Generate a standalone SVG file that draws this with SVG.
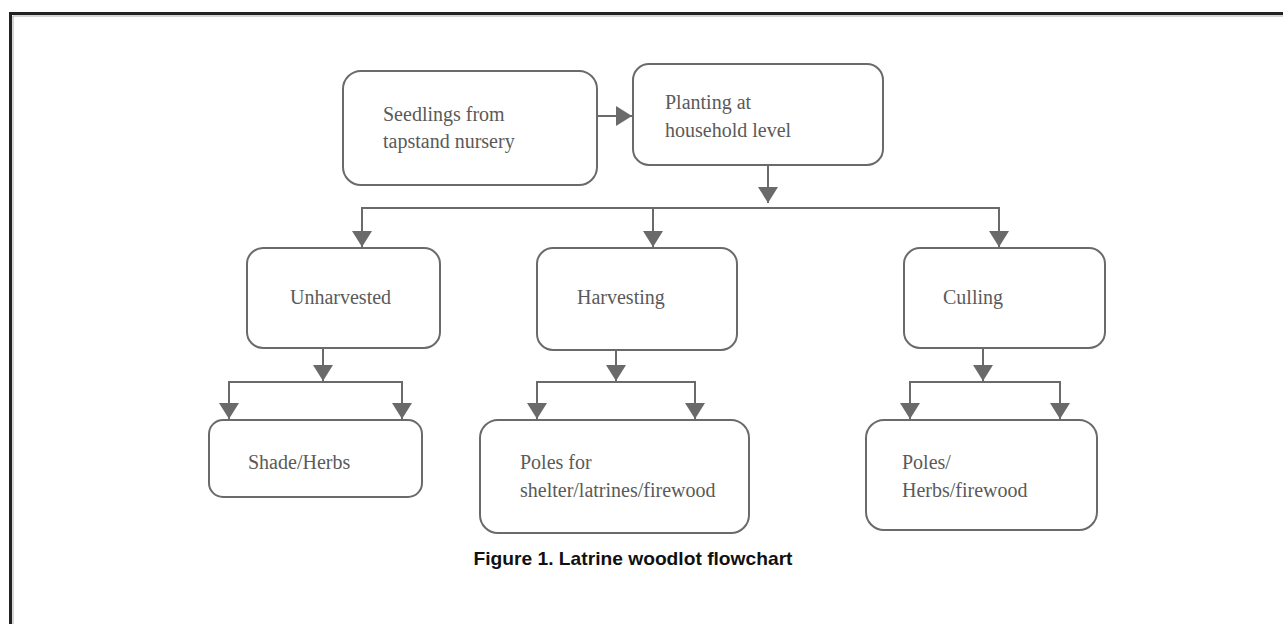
<svg xmlns="http://www.w3.org/2000/svg" width="1283" height="624" viewBox="0 0 1283 624">
<defs>
<marker id="ah" viewBox="0 0 16 20" refX="16" refY="10" markerWidth="16" markerHeight="20" markerUnits="userSpaceOnUse" orient="auto">
<path d="M0,0 L16,10 L0,20 Z" fill="#6a6a6a"/>
</marker>
<style>
.box{fill:#fff;stroke:#6a6a6a;stroke-width:2}
.t{font-family:"Liberation Serif","Times New Roman",serif;font-size:20px;fill:#5a5a5a}
.c{fill:none;stroke:#6a6a6a;stroke-width:2}
</style>
</defs>
<rect width="1283" height="624" fill="#fff"/>
<g id="frame">
<path d="M10.5,624 V13.5 H1283" fill="none" stroke="#222" stroke-width="3"/>
<path d="M13,624 V16 H1283" fill="none" stroke="#aaa" stroke-width="1"/>
</g>
<g id="connectors">
<line class="c" x1="597" y1="116" x2="632" y2="116" marker-end="url(#ah)"/>
<line class="c" x1="768" y1="165" x2="768" y2="203" marker-end="url(#ah)"/>
<polyline class="c" points="362,247 362,208 999,208 999,247"/>
<line class="c" x1="362" y1="208" x2="362" y2="247" marker-end="url(#ah)"/>
<line class="c" x1="653" y1="208" x2="653" y2="247" marker-end="url(#ah)"/>
<line class="c" x1="999" y1="208" x2="999" y2="247" marker-end="url(#ah)"/>
<line class="c" x1="323" y1="348" x2="323" y2="381" marker-end="url(#ah)"/>
<polyline class="c" points="229,419 229,382 402,382 402,419"/>
<line class="c" x1="229" y1="382" x2="229" y2="419" marker-end="url(#ah)"/>
<line class="c" x1="402" y1="382" x2="402" y2="419" marker-end="url(#ah)"/>
<line class="c" x1="616" y1="350" x2="616" y2="381" marker-end="url(#ah)"/>
<polyline class="c" points="537,419 537,382 695,382 695,419"/>
<line class="c" x1="537" y1="382" x2="537" y2="419" marker-end="url(#ah)"/>
<line class="c" x1="695" y1="382" x2="695" y2="419" marker-end="url(#ah)"/>
<line class="c" x1="983" y1="348" x2="983" y2="381" marker-end="url(#ah)"/>
<polyline class="c" points="910,419 910,382 1060,382 1060,419"/>
<line class="c" x1="910" y1="382" x2="910" y2="419" marker-end="url(#ah)"/>
<line class="c" x1="1060" y1="382" x2="1060" y2="419" marker-end="url(#ah)"/>
</g>
<g id="seedlings">
<rect class="box" x="343" y="71" width="254" height="114" rx="18"/>
<text class="t" x="383" y="121">Seedlings from</text>
<text class="t" x="383" y="148">tapstand nursery</text>
</g>
<g id="planting">
<rect class="box" x="633" y="64" width="250" height="101" rx="16"/>
<text class="t" x="665" y="109">Planting at</text>
<text class="t" x="665" y="137">household level</text>
</g>
<g id="unharvested">
<rect class="box" x="247" y="248" width="193" height="100" rx="16"/>
<text class="t" x="290" y="304">Unharvested</text>
</g>
<g id="harvesting">
<rect class="box" x="537" y="248" width="200" height="102" rx="16"/>
<text class="t" x="577" y="304">Harvesting</text>
</g>
<g id="culling">
<rect class="box" x="904" y="248" width="201" height="100" rx="16"/>
<text class="t" x="943" y="304">Culling</text>
</g>
<g id="shade">
<rect class="box" x="209" y="420" width="213" height="77" rx="14"/>
<text class="t" x="248" y="469">Shade/Herbs</text>
</g>
<g id="poles">
<rect class="box" x="480" y="420" width="269" height="113" rx="18"/>
<text class="t" x="520" y="469">Poles for</text>
<text class="t" x="520" y="497">shelter/latrines/firewood</text>
</g>
<g id="poles-herbs">
<rect class="box" x="866" y="420" width="231" height="110" rx="18"/>
<text class="t" x="902" y="469">Poles/</text>
<text class="t" x="902" y="497">Herbs/firewood</text>
</g>
<text x="633" y="565" text-anchor="middle" font-family="'Liberation Sans',Arial,sans-serif" font-weight="bold" font-size="19" textLength="319" lengthAdjust="spacingAndGlyphs" fill="#111">Figure 1. Latrine woodlot flowchart</text>
</svg>
